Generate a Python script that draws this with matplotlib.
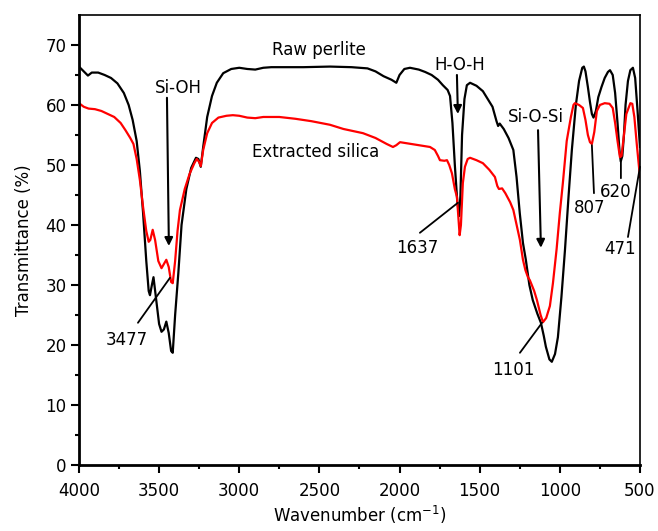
import matplotlib
matplotlib.use("Agg")
import matplotlib.pyplot as plt

plt.rcParams['font.family'] = ['DejaVu Sans']
plt.rcParams['mathtext.default'] = 'regular'
plt.rcParams['font.size'] = 12

# raw perlite (black)
raw_wn = [4000, 3970, 3944, 3920, 3880, 3840, 3800, 3760, 3720, 3690, 3665, 3640, 3620, 3600,
          3580, 3565, 3557, 3545, 3535, 3520, 3500, 3485, 3470, 3455, 3440, 3425, 3415, 3400,
          3380, 3360, 3330, 3300, 3270, 3255, 3240, 3225, 3200, 3170, 3140, 3100, 3050, 3000,
          2950, 2900, 2850, 2800, 2600, 2434, 2300, 2200, 2150, 2100, 2050, 2020, 2000, 1970,
          1935, 1880, 1840, 1800, 1760, 1730, 1700, 1685, 1670, 1655, 1640, 1628, 1620, 1610,
          1595, 1580, 1560, 1520, 1480, 1450, 1420, 1395, 1385, 1375, 1350, 1320, 1290, 1270,
          1250, 1230, 1212, 1190, 1169, 1140, 1118, 1100, 1087, 1065, 1050, 1030, 1012, 990,
          968, 945, 925, 900, 880, 860, 850, 840, 825, 812, 800, 790, 775, 760, 740, 720, 700,
          687, 670, 655, 640, 628, 620, 610, 600, 590, 575, 560, 544, 530, 515, 500]
raw_t = [66.4, 65.6, 64.9, 65.4, 65.4, 65.0, 64.5, 63.6, 62.0, 60.0, 57.5, 54.0, 49.0, 42.0,
         34.0, 29.0, 28.3, 30.0, 31.3, 28.0, 23.5, 22.2, 22.6, 23.9, 22.0, 19.0, 18.7, 25.0,
         32.0, 40.0, 46.0, 49.5, 51.2, 51.0, 49.7, 53.0, 58.0, 61.5, 63.7, 65.3, 66.0, 66.2,
         66.0, 65.9, 66.2, 66.3, 66.3, 66.4, 66.3, 66.1, 65.6, 64.8, 64.2, 63.7, 65.0, 66.0,
         66.2, 65.9, 65.5, 65.0, 64.2, 63.3, 62.5, 61.5, 57.0, 50.0, 44.0, 41.5, 45.0, 55.0,
         61.0, 63.3, 63.7, 63.2, 62.3, 61.0, 59.7, 57.3, 56.5, 56.9, 56.0, 54.5, 52.5, 48.0,
         42.0, 37.0, 34.2, 30.0, 27.5, 25.2, 23.7, 21.5, 19.7, 17.6, 17.2, 18.5, 21.3, 28.0,
         35.8, 45.0, 52.5, 60.0, 64.0, 66.2, 66.4, 65.6, 63.0, 60.5, 58.5, 57.9, 59.0, 61.3,
         63.0, 64.5, 65.5, 65.8, 65.0, 62.0, 57.0, 52.5, 50.6, 51.5, 55.0, 60.0, 64.0, 65.8,
         66.2, 64.5, 59.0, 53.0]

# extracted silica (red)
sil_wn = [4000, 3970, 3940, 3900, 3860, 3820, 3780, 3740, 3710, 3680, 3660, 3640, 3620, 3600,
          3580, 3565, 3555, 3540, 3525, 3505, 3485, 3470, 3455, 3440, 3425, 3415, 3400, 3385,
          3370, 3340, 3310, 3280, 3265, 3250, 3240, 3225, 3200, 3170, 3130, 3080, 3040, 3000,
          2950, 2900, 2850, 2750, 2650, 2550, 2434, 2350, 2228, 2150, 2080, 2041, 2020, 1997,
          1950, 1880, 1810, 1780, 1760, 1748, 1720, 1704, 1690, 1673, 1655, 1642, 1632, 1625,
          1617, 1605, 1592, 1575, 1560, 1520, 1480, 1440, 1405, 1390, 1380, 1360, 1340, 1310,
          1290, 1265, 1249, 1230, 1215, 1199, 1187, 1160, 1143, 1120, 1105, 1085, 1062, 1043,
          1020, 1000, 981, 957, 931, 915, 906, 880, 856, 840, 825, 812, 800, 785, 769, 750,
          720, 690, 670, 655, 640, 625, 615, 600, 585, 560, 548, 535, 520, 500]
sil_t = [60.3, 59.7, 59.4, 59.3, 59.0, 58.5, 58.0, 57.0, 55.8, 54.5, 53.5, 51.0, 47.5, 43.0,
         39.0, 37.2, 37.5, 39.2, 37.5, 34.0, 32.8, 33.5, 34.2, 33.0, 30.5, 30.3, 34.0, 39.0,
         42.5, 46.0, 48.5, 50.3, 51.0, 50.5, 49.8, 52.5, 55.3, 57.0, 57.9, 58.2, 58.3, 58.2,
         57.9, 57.8, 58.0, 58.0, 57.7, 57.3, 56.7, 56.0, 55.3, 54.5, 53.5, 53.0, 53.3, 53.8,
         53.6, 53.3, 53.0, 52.5, 51.5, 50.8, 50.7, 50.8, 50.0, 48.6, 46.0, 44.7, 41.0, 38.3,
         40.0, 47.0, 49.7, 51.0, 51.2, 50.8, 50.3, 49.2, 48.0, 46.5, 46.0, 46.1, 45.3, 43.8,
         42.5, 39.5, 37.5, 34.2, 32.5, 31.3, 30.8, 29.0, 27.5, 25.0, 23.8, 24.5, 26.5, 30.3,
         36.0, 42.0, 47.0, 54.0, 58.0, 60.0, 60.3, 60.0, 59.5, 57.5, 55.0, 53.8, 53.5, 55.5,
         59.0, 60.0, 60.3, 60.2, 59.5, 57.0, 54.0, 51.3, 51.5, 55.0, 58.5, 60.3, 60.2, 58.0,
         53.5, 48.0]

fig = plt.figure(figsize=(6.58, 5.31), dpi=100)
ax = fig.add_axes([0.120, 0.1243, 0.8526, 0.8475])

ax.plot(raw_wn, raw_t, color='black', lw=1.6)
ax.plot(sil_wn, sil_t, color='red', lw=1.6)

ax.set_xlim(4000, 500)
ax.set_ylim(0, 75)
ax.set_xticks(range(4000, 499, -500))
ax.set_xticks(range(3750, 500, -500), minor=True)
ax.set_yticks(range(0, 71, 10))
ax.set_yticks(range(5, 75, 10), minor=True)
ax.tick_params(which='major', direction='out', length=6, width=1.5, labelsize=12)
ax.tick_params(axis='x', which='major', pad=6)
ax.tick_params(axis='y', which='major', pad=3)
ax.tick_params(which='minor', direction='out', length=3, width=1.5)
ax.spines['left'].set_linewidth(2)
ax.spines['bottom'].set_linewidth(2)
ax.spines['top'].set_linewidth(1.2)
ax.spines['right'].set_linewidth(1.2)

ax.set_xlabel('Wavenumber (cm$^{-1}$)', fontsize=12, labelpad=3)
ax.set_ylabel('Transmittance (%)', fontsize=12, labelpad=9)

# curve labels
ax.text(2503, 69.2, 'Raw perlite', ha='center', va='center', fontsize=12)
ax.text(2522, 52.2, 'Extracted silica', ha='center', va='center', fontsize=12)

# group arrows
arrow = dict(arrowstyle='-|>', color='black', lw=1.5, mutation_scale=12, shrinkA=0, shrinkB=0)
ax.text(3382, 62.8, 'Si-OH', ha='center', va='center', fontsize=12)
ax.annotate('', xy=(3439, 36.5), xytext=(3451, 61.2), arrowprops=arrow)
ax.text(1623, 66.7, 'H-O-H', ha='center', va='center', fontsize=12)
ax.annotate('', xy=(1636, 58.5), xytext=(1642, 65.0), arrowprops=arrow)
ax.text(1149, 58.0, 'Si-O-Si', ha='center', va='center', fontsize=12)
ax.annotate('', xy=(1118, 36.2), xytext=(1136, 55.8), arrowprops=arrow)

# peak labels with leader lines
line = dict(arrowstyle='-', color='black', lw=1.3, shrinkA=0, shrinkB=0)
ax.text(3700, 20.8, '3477', ha='center', va='center', fontsize=12)
ax.annotate('', xy=(3432, 31.2), xytext=(3632, 23.7), arrowprops=line)
ax.text(1891, 36.2, '1637', ha='center', va='center', fontsize=12)
ax.annotate('', xy=(1636, 43.7), xytext=(1873, 38.7), arrowprops=line)
ax.text(1292, 15.8, '1101', ha='center', va='center', fontsize=12)
ax.annotate('', xy=(1111, 23.7), xytext=(1249, 18.7), arrowprops=line)
ax.text(812, 42.8, '807', ha='center', va='center', fontsize=12)
ax.annotate('', xy=(800, 53.3), xytext=(787, 45.3), arrowprops=line)
ax.text(650, 45.5, '620', ha='center', va='center', fontsize=12)
ax.annotate('', xy=(619, 50.5), xytext=(619, 47.8), arrowprops=line)
ax.text(625, 36.0, '471', ha='center', va='center', fontsize=12)
ax.annotate('', xy=(500, 49.7), xytext=(575, 38.0), arrowprops=line)

fig.savefig('out.png', dpi=100)
